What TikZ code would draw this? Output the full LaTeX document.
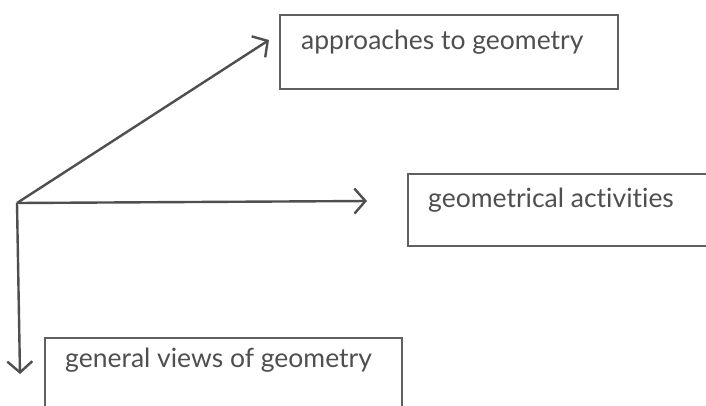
\documentclass[tikz,border=0pt]{standalone}
\usepackage{fontspec}
\setmainfont[Ligatures={NoCommon}]{Lato}
\usetikzlibrary{arrows.meta}
\definecolor{ink}{HTML}{4F4F4F}
\definecolor{boxline}{HTML}{606060}
\begin{document}
\begin{tikzpicture}[x=1pt,y=-1pt,
  box/.style={draw=boxline,line width=1.6pt,rectangle,inner sep=0pt,anchor=north west},
  lbl/.style={text=ink,font=\fontsize{26.5}{31}\selectfont,anchor=base west,inner sep=0pt},
  conn/.style={draw=ink,line width=2.4pt,-{Straight Barb[length=11pt,width=25pt,line width=2.4pt]}}]
\useasboundingbox (0,0) rectangle (706,405);
\clip (0,0) rectangle (706,405);
\fill[white] (0,0) rectangle (706,405);
\node[box,minimum width=338pt,minimum height=74pt] (b1) at (279,14) {};
\node[box,minimum width=320pt,minimum height=72pt] (b2) at (407,173) {};
\node[box,minimum width=357pt,minimum height=90pt] (b3) at (44,337) {};
\node[lbl] (t1) at (301,49) {approaches to geometry};
\node[lbl] (t2) at (428,207) {geometrical activities};
\node[lbl] (t3) at (65,367) {general views of geometry};
\coordinate (o) at (17,203);
\coordinate (e1) at (269,40);
\coordinate (e2) at (367,201);
\coordinate (e3) at (20,374);
\draw[conn] (o) -- (e1);
\draw[conn] (o) -- (e2);
\draw[conn] (o) -- (e3);
\end{tikzpicture}
\end{document}
